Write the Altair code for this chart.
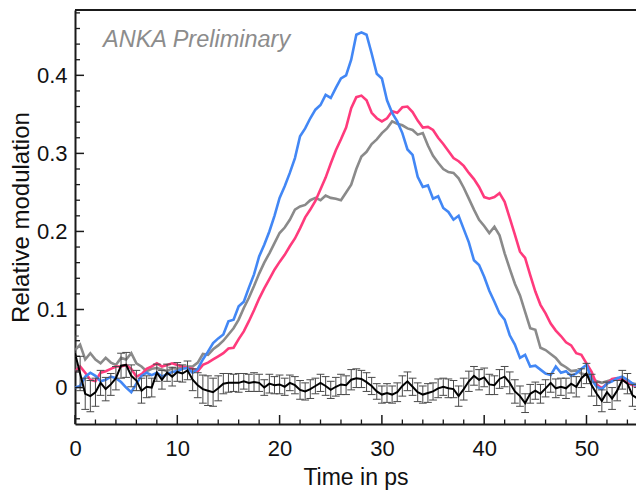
import altair as alt
import pandas as pd

# ---------------- data ----------------
time_ps = [round(0.5 * i, 1) for i in range(111)]

blue = [0.000, 0.002, 0.014, 0.019, 0.015, 0.008, 0.010, 0.014, 0.012, 0.007,
        0.000, -0.006, 0.005, 0.015, 0.019, 0.016, 0.019, 0.014, 0.017, 0.020,
        0.021, 0.024, 0.025, 0.019, 0.024, 0.036, 0.046, 0.057, 0.063, 0.068,
        0.085, 0.087, 0.104, 0.110, 0.128, 0.145, 0.168, 0.183, 0.200, 0.220,
        0.243, 0.258, 0.275, 0.294, 0.322, 0.332, 0.345, 0.356, 0.362, 0.375,
        0.371, 0.384, 0.396, 0.400, 0.420, 0.452, 0.455, 0.452, 0.428, 0.402,
        0.396, 0.368, 0.352, 0.341, 0.326, 0.305, 0.298, 0.270, 0.257, 0.259,
        0.242, 0.245, 0.230, 0.225, 0.215, 0.220, 0.203, 0.186, 0.163, 0.157,
        0.142, 0.124, 0.110, 0.095, 0.087, 0.067, 0.055, 0.038, 0.042, 0.027,
        0.028, 0.023, 0.018, 0.016, 0.027, 0.019, 0.021, 0.015, 0.018, 0.024,
        0.029, 0.010, 0.001, -0.002, 0.005, 0.008, 0.012, 0.014, 0.010, 0.005,
        0.002]

pink = [0.021, 0.027, 0.019, 0.010, 0.008, 0.019, 0.021, 0.024, 0.027, 0.027,
        0.029, 0.024, 0.014, 0.017, 0.024, 0.027, 0.031, 0.027, 0.029, 0.031,
        0.029, 0.027, 0.025, 0.024, 0.021, 0.029, 0.032, 0.036, 0.040, 0.044,
        0.050, 0.051, 0.062, 0.072, 0.085, 0.099, 0.114, 0.127, 0.139, 0.151,
        0.161, 0.170, 0.181, 0.191, 0.204, 0.218, 0.228, 0.239, 0.254, 0.269,
        0.287, 0.304, 0.318, 0.333, 0.358, 0.372, 0.374, 0.368, 0.352, 0.345,
        0.341, 0.345, 0.354, 0.352, 0.359, 0.360, 0.353, 0.342, 0.333, 0.334,
        0.330, 0.320, 0.312, 0.303, 0.294, 0.290, 0.284, 0.275, 0.267, 0.257,
        0.244, 0.242, 0.244, 0.249, 0.238, 0.217, 0.196, 0.174, 0.166, 0.144,
        0.123, 0.106, 0.095, 0.082, 0.073, 0.066, 0.058, 0.054, 0.044, 0.042,
        0.031, 0.020, 0.004, -0.001, 0.005, 0.011, 0.012, 0.010, 0.006, 0.003,
        0.002]

gray = [0.048, 0.055, 0.036, 0.044, 0.036, 0.031, 0.038, 0.032, 0.029, 0.038,
        0.036, 0.044, 0.031, 0.027, 0.021, 0.024, 0.025, 0.023, 0.021, 0.025,
        0.024, 0.026, 0.027, 0.027, 0.032, 0.043, 0.042, 0.049, 0.054, 0.060,
        0.068, 0.076, 0.087, 0.102, 0.115, 0.130, 0.146, 0.160, 0.172, 0.185,
        0.198, 0.205, 0.215, 0.228, 0.232, 0.234, 0.240, 0.243, 0.240, 0.246,
        0.243, 0.242, 0.240, 0.250, 0.260, 0.280, 0.296, 0.302, 0.312, 0.318,
        0.326, 0.332, 0.341, 0.338, 0.336, 0.332, 0.330, 0.324, 0.326, 0.310,
        0.297, 0.288, 0.280, 0.276, 0.275, 0.268, 0.256, 0.242, 0.228, 0.215,
        0.207, 0.198, 0.206, 0.195, 0.172, 0.152, 0.133, 0.118, 0.097, 0.076,
        0.074, 0.051, 0.048, 0.043, 0.038, 0.030, 0.026, 0.021, 0.022, 0.018,
        0.016, 0.012, 0.008, 0.006, 0.008, 0.010, 0.012, 0.012, 0.008, 0.005,
        0.004]

black = [0.044, 0.018, -0.008, -0.011, -0.006, 0.006, -0.002, 0.004, 0.012, 0.028,
         0.029, 0.015, 0.009, -0.004, 0.001, 0.000, 0.019, 0.010, 0.019, 0.014,
         0.020, 0.018, 0.022, 0.010, 0.003, -0.002, -0.004, -0.006, -0.001, 0.005,
         0.006, 0.006, 0.006, 0.008, 0.006, 0.007, 0.006, 0.000, 0.005, 0.003,
         0.004, 0.001, 0.006, 0.003, -0.003, -0.005, -0.002, 0.002, 0.006, 0.002,
         -0.003, 0.001, 0.004, 0.003, 0.010, 0.012, 0.011, 0.007, 0.002, -0.005,
         -0.009, -0.007, -0.009, -0.006, 0.002, 0.008, 0.001, -0.006, -0.009, -0.007,
         -0.005, -0.001, 0.001, -0.001, -0.002, -0.011, -0.002, 0.008, 0.015, 0.010,
         0.013, 0.004, 0.003, 0.011, 0.014, 0.006, -0.005, -0.011, -0.020, -0.008,
         -0.004, -0.008, -0.001, 0.006, -0.001, 0.001, -0.001, 0.005, 0.001, 0.012,
         0.018, 0.003, -0.008, -0.017, -0.006, -0.014, -0.004, 0.010, 0.005, -0.010,
         -0.014]

black_err = [0.022, 0.022, 0.020, 0.020, 0.018, 0.016, 0.015, 0.014, 0.015, 0.016,
             0.016, 0.014, 0.013, 0.016, 0.014, 0.012, 0.011, 0.012, 0.011, 0.012,
             0.012, 0.011, 0.012, 0.014, 0.016, 0.018, 0.019, 0.018, 0.016, 0.013,
             0.012, 0.011, 0.012, 0.010, 0.011, 0.012, 0.011, 0.010, 0.012, 0.011,
             0.012, 0.011, 0.010, 0.011, 0.012, 0.011, 0.012, 0.010, 0.011, 0.012,
             0.011, 0.012, 0.013, 0.012, 0.013, 0.012, 0.011, 0.012, 0.011, 0.010,
             0.011, 0.012, 0.011, 0.012, 0.013, 0.012, 0.011, 0.012, 0.011, 0.012,
             0.011, 0.012, 0.011, 0.012, 0.011, 0.013, 0.014, 0.013, 0.012, 0.013,
             0.012, 0.013, 0.012, 0.012, 0.013, 0.014, 0.015, 0.013, 0.012, 0.012,
             0.011, 0.012, 0.011, 0.012, 0.012, 0.011, 0.013, 0.012, 0.013, 0.012,
             0.013, 0.014, 0.015, 0.014, 0.013, 0.014, 0.013, 0.012, 0.013, 0.014,
             0.014]

x_major_ticks = [0, 10, 20, 30, 40, 50]
x_minor_ticks = [2, 4, 6, 8, 12, 14, 16, 18, 22, 24, 26, 28, 32, 34, 36, 38,
                 42, 44, 46, 48, 52, 54]
y_major_ticks = [0, 0.1, 0.2, 0.3, 0.4]
y_minor_ticks = [-0.04, -0.02, 0.02, 0.04, 0.06, 0.08, 0.12, 0.14, 0.16, 0.18,
                 0.22, 0.24, 0.26, 0.28, 0.32, 0.34, 0.36, 0.38, 0.42, 0.44,
                 0.46, 0.48]
watermark = ["ANKA Preliminary"]

# ---------------- layout ----------------
W, H = 561, 414
FONT = "Liberation Sans"
AXIS_COLOR = "#1a1a1a"

xscale = alt.Scale(domain=[0, 54.84], nice=False, zero=False)
yscale = alt.Scale(domain=[-0.0467, 0.4837], nice=False, zero=False)

xaxis = alt.Axis(title="Time in ps", values=x_major_ticks, format="d",
                 ticks=False, tickSize=0, grid=False, labelFlush=False,
                 domainColor=AXIS_COLOR, domainWidth=2,
                 labelFontSize=22, labelPadding=14, labelColor="#111",
                 labelFont=FONT, titleFont=FONT, titleFontSize=23,
                 titleFontWeight="normal", titleColor="#111",
                 titleX=W / 2, titleY=60, titleBaseline="alphabetic",
                 titleAlign="center")
yaxis = alt.Axis(title="Relative modulation", values=y_major_ticks, format="~g",
                 ticks=False, tickSize=0, grid=False, labelFlush=False,
                 domainColor=AXIS_COLOR, domainWidth=2,
                 labelFontSize=22, labelPadding=8, labelColor="#111",
                 labelFont=FONT, titleFont=FONT, titleFontSize=24,
                 titleFontWeight="normal", titleColor="#111",
                 titleX=-47, titleY=H / 2, titleAngle=-90,
                 titleBaseline="alphabetic", titleAlign="center")


def X(field):
    return alt.X(f"{field}:Q", scale=xscale, axis=xaxis)


def Y(field):
    return alt.Y(f"{field}:Q", scale=yscale, axis=yaxis)


series_df = pd.DataFrame({"x": time_ps, "blue": blue, "pink": pink,
                          "gray": gray, "black": black, "err": black_err})

# inward ticks
xmaj = alt.Chart(pd.DataFrame({"x": x_major_ticks})).mark_rule(
    color=AXIS_COLOR, strokeWidth=1.5).encode(
    x=X("x"), y=alt.value(H), y2=alt.value(H - 9))
xmin = alt.Chart(pd.DataFrame({"x": x_minor_ticks})).mark_rule(
    color=AXIS_COLOR, strokeWidth=1.3).encode(
    x=X("x"), y=alt.value(H), y2=alt.value(H - 4.5))
ymaj = alt.Chart(pd.DataFrame({"y": y_major_ticks})).mark_rule(
    color=AXIS_COLOR, strokeWidth=1.5).encode(
    y=Y("y"), x=alt.value(0), x2=alt.value(9))
ymin = alt.Chart(pd.DataFrame({"y": y_minor_ticks})).mark_rule(
    color=AXIS_COLOR, strokeWidth=1.3).encode(
    y=Y("y"), x=alt.value(0), x2=alt.value(5))
top_spine = alt.Chart(pd.DataFrame({"y": [0]})).mark_rule(
    color=AXIS_COLOR, strokeWidth=2).encode(
    y=alt.value(0), x=alt.value(0), x2=alt.value(W))

base = alt.Chart(series_df)


def line(field, color, width):
    return base.mark_line(color=color, strokeWidth=width, clip=True).encode(
        x=X("x"), y=Y(field))


gray_line = line("gray", "#8a8a8a", 2.6)
pink_line = line("pink", "#ff3a7c", 2.6)
blue_line = line("blue", "#4287f5", 2.6)

err_base = base.transform_calculate(
    lo="datum.black - datum.err", hi="datum.black + datum.err",
    xl="datum.x - 0.38", xr="datum.x + 0.38")
err_v = err_base.mark_rule(color="#4a4a4a", strokeWidth=1, clip=True).encode(
    x=X("x"), y=Y("lo"), y2="hi:Q")
err_lo = err_base.mark_rule(color="#4a4a4a", strokeWidth=1, clip=True).encode(
    x=X("xl"), x2="xr:Q", y=Y("lo"))
err_hi = err_base.mark_rule(color="#4a4a4a", strokeWidth=1, clip=True).encode(
    x=X("xl"), x2="xr:Q", y=Y("hi"))
black_line = line("black", "#000000", 2)

label = alt.Chart(pd.DataFrame({"t": watermark})).mark_text(
    align="left", baseline="alphabetic", font=FONT, fontStyle="italic",
    fontSize=23.5, color="#8c8c8c").encode(
    text="t:N", x=alt.value(28), y=alt.value(36.7))

chart = alt.layer(
    gray_line, pink_line, blue_line, err_v, err_lo, err_hi, black_line,
    xmaj, xmin, ymaj, ymin, top_spine, label
).properties(
    width=W, height=H,
    padding={"left": 75, "top": 10, "right": 0, "bottom": 67},
    autosize=alt.AutoSizeParams(type="none"),
    background="white",
).configure_view(stroke=None)

chart.save("out.html", embed_options={"renderer": "svg", "actions": False})
